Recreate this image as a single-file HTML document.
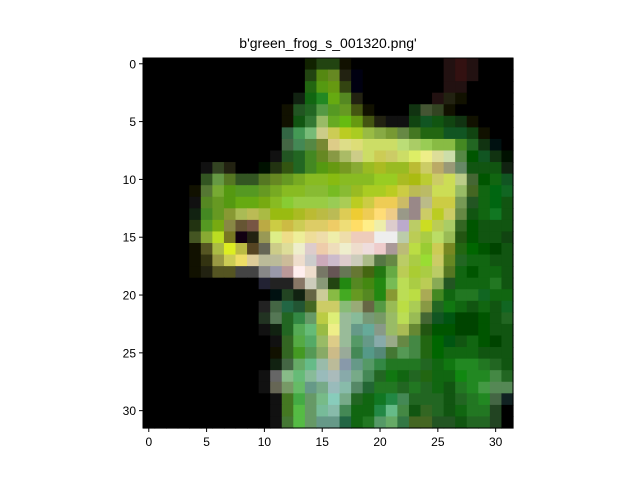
<!DOCTYPE html>
<html><head><meta charset="utf-8"><style>
html,body{margin:0;padding:0;background:#fff;}
svg{display:block;font-family:"Liberation Sans","DejaVu Sans",sans-serif;}
</style></head><body>
<svg id="chart" width="640" height="480" viewBox="0 0 640 480" xmlns="http://www.w3.org/2000/svg">
<text x="328" y="48" font-size="14" text-anchor="middle">b'green_frog_s_001320.png'</text>
<g id="cells"></g>
<rect x="143" y="58" width="370" height="370" fill="none" stroke="#000" stroke-width="1"/>
<g id="xticks"></g>
<g id="yticks"></g>
</svg>
<script>
const pixelRows = [
"000*14 120 241 241 110 000*8 211 311 211 000*3",
"000*14 241 581 682 221 001 000*7 211 311 211 000*3",
"000*14 261 591 691 341 001 000*7 211 211 000*4",
"000*13 121 161 282 6a1 582 221 000*6 211 221 110 000*4",
"000*12 110 252 262 594 592 692 451 110 000*3 131 453 342 110 000*5",
"000*12 110 151 373 9b6 6a2 6b1 691 451 221 111 111 141 152 151 141 131 110 000*3",
"000*12 364 495 7b7 cc8 cc5 bc2 ac2 9b4 8a4 793 684 472 261 261 152 152 141 110 000*2",
"000*12 464 485 584 783 dc8 dd8 dd7 cd6 cd6 cd6 bd7 ac6 9c5 8b4 8b4 482 262 131 011 000",
"000*11 111 252 262 482 682 894 ab6 cc8 cd6 cc5 cc6 cd6 de6 ee8 dd9 cda 584 050 152 131 010",
"000*5 111 342 221 000 000 010 231 351 262 482 591 691 792 8a3 9b2 ab2 9b2 9b2 bb3 cc6 ba6 997 686 151 151 151 121",
"000*5 352 694 572 352 352 572 682 692 7a2 8b2 8b2 8b1 8b2 8b2 8b2 9c2 9c2 ab2 ab1 bc3 cc6 cd5 bc8 463 050 161 152",
"000*4 110 573 7a3 591 592 592 692 7a2 8b2 8b2 8b3 8b3 7b2 8b3 9b2 ac2 ac2 bc2 cc4 bb5 bb6 cd5 cd5 9b6 462 161 061 162",
"000*4 111 582 692 591 6a1 6a1 7a1 8b2 8c3 9c4 9c4 9c4 9c5 ac5 bc2 cc4 ec5 ec5 cb6 988 bb8 cc4 cc4 795 252 161 061 151",
"000*4 121 482 692 893 ab5 bb5 ab4 9b1 9b1 ab2 bb3 bb4 bb5 dc5 ec3 ec5 fd7 ec8 998 988 cc6 bc2 cc6 684 151 161 172 151",
"000*4 231 592 7a1 884 653 754 ba4 cc4 cb4 cc5 dc6 dc6 ec6 ed7 fd6 fe8 eea dcc bac bc6 cd2 bc5 ac6 362 050 151 151 151",
"000*4 452 8a3 bd2 772 101 221 995 de8 ed8 ee9 ed9 eda eea eda ecb ecb eee eee bca bc5 ac4 bd6 9b5 251 050 151 151 141",
"000*4 110 552 ab4 de2 bb4 542 665 cc8 dd9 eec dcc eca edb eec edc edd ecc a99 bb7 bd4 9c3 cc5 782 261 060 050 040 151",
"000*4 110 331 994 cc5 ed6 dc9 bb9 bb9 cb9 edc ccc cab cbc dcc ccb ab8 574 684 bc6 ac4 9d3 cc6 682 262 161 161 151 151",
"000*4 110 221 552 552 444 444 888 99a b99 fee edc 776 655 675 673 461 271 6a4 bc5 ac3 ac4 bc6 572 161 050 161 161 151",
"000*10 223 222 222 876 ccb 897 241 281 582 481 281 7b5 bd5 ac4 bc5 8a5 252 161 161 161 272 151",
"000*11 011 242 121 664 cc9 8b4 4a2 692 582 281 893 bd5 bd4 aa5 482 161 272 272 162 161 161",
"000*10 222 464 264 253 462 cc6 cc6 8b7 9a7 664 594 9b5 bd4 ac5 894 262 171 161 151 161 151 162",
"000*10 232 575 262 384 696 bc4 de7 9b9 8b9 797 796 9b6 bd5 9b5 463 152 051 040 040 050 151 262",
"000*10 111 121 262 5a5 6b7 9b4 ee8 9b9 698 6a9 898 9b6 ab5 683 251 050 050 040 040 050 151 151",
"000*11 111 362 5a4 5a6 9b6 dc8 9b9 596 698 8aa 9a8 684 484 261 060 051 151 161 050 040 151",
"000*11 110 362 492 595 8a6 cb8 9a9 485 598 587 473 595 484 261 060 161 161 161 151 151 151",
"000*11 121 464 6a6 6b8 9ba bb9 89a 698 596 384 272 272 272 262 161 171 282 282 272 262 151",
"000*10 111 666 8b8 6b7 8b9 9bb abb 8aa 7a8 485 262 171 161 262 261 161 161 181 282 282 484 262",
"000*10 111 665 796 6b6 698 7a8 9bb 8ba 586 263 272 272 262 272 262 161 151 272 282 494 585 585",
"000*11 111 472 4a4 696 7b8 8cb 7a8 262 161 172 284 485 262 262 262 151 262 272 282 464 122",
"000*11 111 472 5b4 696 7b9 8ba 485 161 161 284 6b8 484 151 362 262 151 161 272 272 242 000",
"000*11 111 473 5b4 696 698 698 264 161 272 596 6a6 374 462 462 252 252 151 262 262 242 000"
];
const xTickValues = [0,5,10,15,20,25,30];
const yTickValues = [0,5,10,15,20,25,30];
const NS = "http://www.w3.org/2000/svg";
const X0 = 143, Y0 = 58, W = 370, H = 370, N = 32;
const cw = W / N, ch = H / N;
function xScale(c){ return X0 + c * cw; }
function yScale(r){ return Y0 + r * ch; }
function expand(s){ const out=[]; s.split(' ').forEach(t=>{ const p=t.split('*'); const n=p[1]?parseInt(p[1]):1; for(let i=0;i<n;i++) out.push(p[0]); }); return out; }
const cells = document.getElementById('cells');
pixelRows.forEach((row, r) => {
  expand(row).forEach((hex, c) => {
    const el = document.createElementNS(NS, 'rect');
    
    
    el.setAttribute('x', xScale(c).toFixed(2));
    el.setAttribute('y', yScale(r).toFixed(2));
    el.setAttribute('width', (cw + 0.6).toFixed(2));
    el.setAttribute('height', (ch + 0.6).toFixed(2));
    el.setAttribute('fill', '#' + hex);
    cells.appendChild(el);
  });
});
const xt = document.getElementById('xticks');
xTickValues.forEach(v => {
  const x = xScale(v + 0.5);
  const l = document.createElementNS(NS, 'line');
  
  
  l.setAttribute('x1', x); l.setAttribute('x2', x);
  l.setAttribute('y1', Y0 + H); l.setAttribute('y2', Y0 + H + 4);
  l.setAttribute('stroke', '#000');
  xt.appendChild(l);
  const t = document.createElementNS(NS, 'text');
  
  
  t.setAttribute('x', x); t.setAttribute('y', Y0 + H + 18);
  t.setAttribute('font-size', '12'); t.setAttribute('text-anchor', 'middle');
  t.textContent = v;
  xt.appendChild(t);
});
const yt = document.getElementById('yticks');
yTickValues.forEach(v => {
  const y = yScale(v + 0.5);
  const l = document.createElementNS(NS, 'line');
  
  
  l.setAttribute('x1', X0 - 4); l.setAttribute('x2', X0);
  l.setAttribute('y1', y); l.setAttribute('y2', y);
  l.setAttribute('stroke', '#000');
  yt.appendChild(l);
  const t = document.createElementNS(NS, 'text');
  
  
  t.setAttribute('x', X0 - 7); t.setAttribute('y', y + 4.5);
  t.setAttribute('font-size', '12'); t.setAttribute('text-anchor', 'end');
  t.textContent = v;
  yt.appendChild(t);
});
</script>
</body></html>
